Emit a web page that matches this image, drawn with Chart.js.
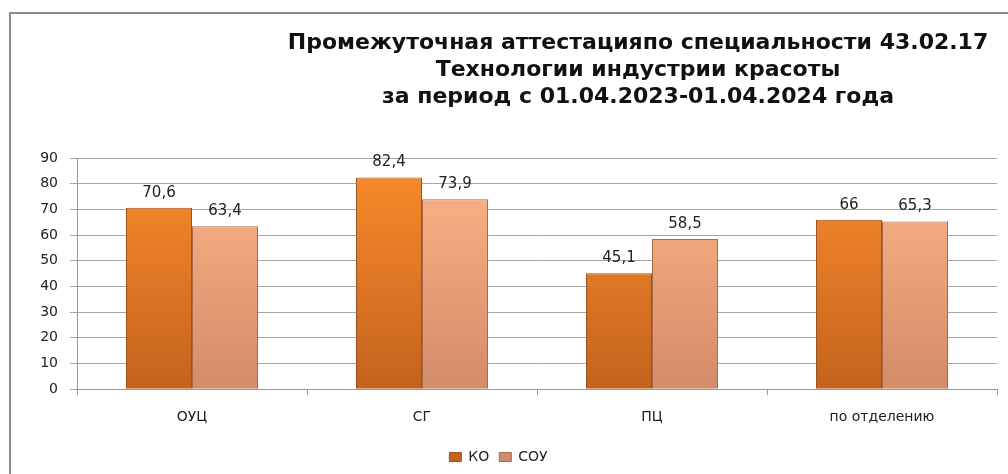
<!DOCTYPE html>
<html>
<head>
<meta charset="utf-8">
<script src="https://cdn.jsdelivr.net/npm/chart.js@4"></script>
<style>
  html, body { margin: 0; padding: 0; background: #fff; overflow: hidden; }
  #frame { position: absolute; left: 9px; top: 12px; width: 1020px; height: 480px; border: 2px solid #8c8c8c; }
  #wrap { position: absolute; left: 0; top: 0; width: 1008px; height: 474px; }
</style>
</head>
<body>
<div id="frame"></div>
<div id="wrap"><canvas id="chart"></canvas></div>
<script>
const categories = ['ОУЦ', 'СГ', 'ПЦ', 'по отделению'];
const koValues = [70.6, 82.4, 45.1, 66];
const souValues = [63.4, 73.9, 58.5, 65.3];
const titleLines = [
  'Промежуточная аттестацияпо специальности 43.02.17',
  'Технологии индустрии красоты',
  'за период с 01.04.2023-01.04.2024 года'
];

// vertical gradient for the bars, like the office 3d-ish fill
function barFill(top, bottom) {
  return ctx => {
    const area = ctx.chart.chartArea;
    if (!area) return top;
    const g = ctx.chart.ctx.createLinearGradient(0, area.top, 0, area.bottom);
    g.addColorStop(0, top);
    g.addColorStop(1, bottom);
    return g;
  };
}

// title drawn off-centre (same place as in the original)
const titlePlugin = {
  id: 'offTitle',
  afterDraw(chart) {
    const c = chart.ctx;
    c.save();
    c.fillStyle = '#111';
    c.font = 'bold 22px "DejaVu Sans"';
    c.textAlign = 'center';
    c.textBaseline = 'middle';
    titleLines.forEach((t, i) => c.fillText(t, 638, 43 + i * 27));
    c.restore();
  }
};

// values above the bars, with a comma as decimal sign
const valueLabels = {
  id: 'valueLabels',
  afterDatasetsDraw(chart) {
    const c = chart.ctx;
    c.save();
    c.fillStyle = '#222';
    c.font = '15px "DejaVu Sans"';
    c.textAlign = 'center';
    c.textBaseline = 'middle';
    chart.data.datasets.forEach((ds, di) => {
      chart.getDatasetMeta(di).data.forEach((bar, i) => {
        c.fillText(String(ds.data[i]).replace('.', ','), bar.x, bar.y - 15);
      });
    });
    c.restore();
  }
};

new Chart(document.getElementById('chart'), {
  type: 'bar',
  data: {
    labels: categories,
    datasets: [{
      label: 'КО',
      data: koValues,
      backgroundColor: barFill('#fa8c2c', '#c4631d'),
      borderColor: '#9a5420',
      borderWidth: 1
    }, {
      label: 'СОУ',
      data: souValues,
      backgroundColor: barFill('#feb587', '#d38c69'),
      borderColor: '#a86a4c',
      borderWidth: 1
    }]
  },
  options: {
    responsive: true,
    maintainAspectRatio: false,
    animation: false,
    layout: { padding: { top: 158, right: 11, left: 0, bottom: 0 } },
    datasets: { bar: { categoryPercentage: 0.574, barPercentage: 1 } },
    plugins: {
      title: { display: false },
      tooltip: { enabled: false },
      legend: {
        position: 'bottom',
        labels: {
          boxWidth: 12, boxHeight: 9, padding: 10,
          color: '#222',
          font: { family: 'DejaVu Sans', size: 14 }
        }
      }
    },
    scales: {
      x: {
        grid: { offset: true, drawOnChartArea: false, drawTicks: true, tickLength: 6, color: '#999' },
        border: { color: '#999' },
        ticks: { color: '#222', padding: 14, font: { family: 'DejaVu Sans', size: 14 } }
      },
      y: {
        min: 0, max: 90,
        afterFit: s => { s.width = 77; },
        grid: { color: '#a6a6a6', tickLength: 7 },
        border: { color: '#999' },
        ticks: { stepSize: 10, color: '#222', padding: 12, font: { family: 'DejaVu Sans', size: 14 } }
      }
    }
  },
  plugins: [titlePlugin, valueLabels]
});
</script>
</body>
</html>
